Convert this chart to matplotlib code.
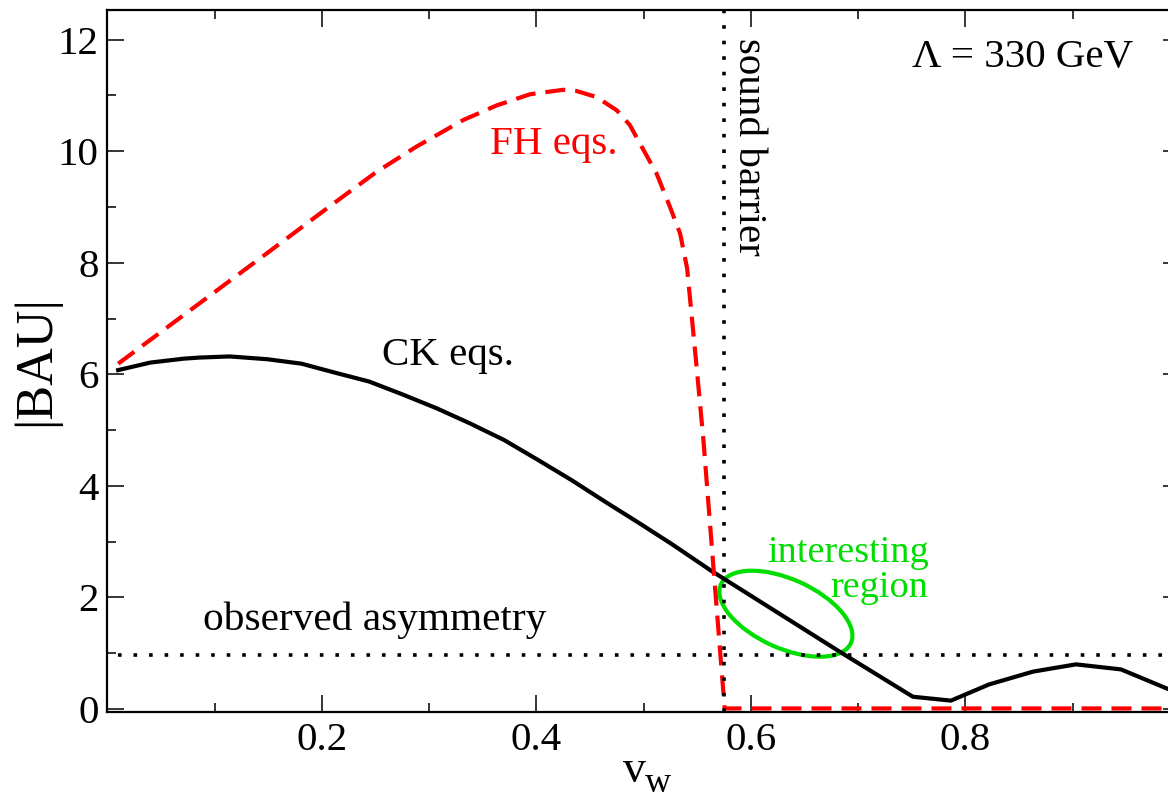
import matplotlib
matplotlib.use("Agg")
import matplotlib.pyplot as plt
from matplotlib.patches import Ellipse
from matplotlib.transforms import ScaledTranslation
from matplotlib.ticker import MultipleLocator, FixedLocator

# --- data ------------------------------------------------------------------
ck_vw = [0.010, 0.040, 0.071, 0.086, 0.114, 0.149, 0.181, 0.212, 0.244,
         0.275, 0.307, 0.338, 0.370, 0.401, 0.433, 0.4645, 0.496, 0.5275,
         0.562, 0.685, 0.751, 0.7865, 0.822, 0.863, 0.903, 0.945, 1.000]
ck_bau = [6.075, 6.21, 6.28, 6.30, 6.32, 6.27, 6.19, 6.03, 5.87,
          5.64, 5.39, 5.12, 4.82, 4.47, 4.10, 3.71, 3.33, 2.94,
          2.49, 1.00, 0.22, 0.15, 0.44, 0.67, 0.80, 0.71, 0.27]

fh_vw = [0.010, 0.092, 0.148, 0.210, 0.251, 0.288, 0.332, 0.363, 0.394,
         0.425, 0.437, 0.456, 0.475, 0.487, 0.499, 0.512, 0.5245, 0.534,
         0.5405, 0.549, 0.5557, 0.565, 0.5755, 1.000]
fh_bau = [6.19, 7.36, 8.16, 9.05, 9.63, 10.08, 10.56, 10.82, 11.02,
          11.10, 11.08, 10.97, 10.73, 10.47, 10.05, 9.60, 9.00, 8.52,
          7.90, 6.20, 4.82, 2.55, 0.01, 0.01]

sound_barrier = 0.575
observed_bau = 0.96

x_ticks = [0.2, 0.4, 0.6, 0.8]
x_ticklabels = ["0.2", "0.4", "0.6", "0.8"]
y_ticks = [0, 2, 4, 6, 8, 10, 12]

RED = "#ff0000"
GREEN = "#00dd00"

plt.rcParams["font.family"] = ["Liberation Serif", "DejaVu Serif"]

fig = plt.figure(figsize=(11.68, 8.01), dpi=100)
ax = fig.add_axes([0.0920, 0.1111, 0.9182, 0.8764])

ax.plot(ck_vw, ck_bau, color="black", lw=3.0, solid_joinstyle="round")
ax.plot(fh_vw, fh_bau, color=RED, lw=3.0, dashes=(4.8, 2.4))
ax.axvline(sound_barrier, color="black", lw=2.6, dashes=(1, 3.3))
ax.axhline(observed_bau, xmin=0.01, color="black", lw=2.6, dashes=(1, 3.3))

ax.set_xlim(0, 1.0)
ax.set_ylim(-0.054, 12.53)

ax.xaxis.set_major_locator(FixedLocator(x_ticks))
ax.set_xticklabels(x_ticklabels)
ax.xaxis.set_minor_locator(MultipleLocator(0.1))
ax.yaxis.set_major_locator(FixedLocator(y_ticks))
ax.yaxis.set_minor_locator(MultipleLocator(1))

ax.tick_params(which="both", direction="in", top=True, right=True,
               width=1.1, labelsize=29.5)
ax.tick_params(which="major", length=12.2)
ax.tick_params(which="minor", length=6.5)
ax.tick_params(axis="x", pad=7)
ax.tick_params(axis="y", pad=6.5)
for sp in ax.spines.values():
    sp.set_linewidth(1.6)

ax.set_ylabel("|BAU|", fontsize=37.5, va="center")
ax.yaxis.set_label_coords(-0.0671, 0.5)
# x label: "v" with a lowered subscript "w"
ax.set_xlabel("v", fontsize=33, va="baseline")
ax.xaxis.set_label_coords(0.4915, -0.0993)
ax.text(0.501, -0.1135, "w", fontsize=26, transform=ax.transAxes,
        va="baseline", ha="left", clip_on=False)

# annotations
ax.text(0.3565, 9.95, "FH eqs.", color=RED, fontsize=29.5)
ax.text(0.2564, 6.16, "CK eqs.", color="black", fontsize=29.5)
ax.text(0.0888, 1.42, "observed asymmetry", color="black", fontsize=29.8)
ax.text(0.750, 11.51, "Λ = 330 GeV", color="black", fontsize=29.5)
ax.text(0.5885, 12.02, "sound barrier", color="black", fontsize=29.5,
        rotation=-90, rotation_mode="anchor", ha="left", va="baseline")
ax.text(0.7656, 2.64, "interesting", color=GREEN, fontsize=27.5, ha="right")
ax.text(0.7656, 2.01, "region", color=GREEN, fontsize=27.5, ha="right")

# ellipse drawn in inches around a data-space centre
ell_center = (0.6326, 1.708)
ell = Ellipse((0, 0), width=1.426, height=0.69, angle=-24.3,
              fill=False, edgecolor=GREEN, lw=3.0,
              transform=fig.dpi_scale_trans
              + ScaledTranslation(ell_center[0], ell_center[1], ax.transData))
ax.add_patch(ell)

fig.savefig("out.png", dpi=100)
